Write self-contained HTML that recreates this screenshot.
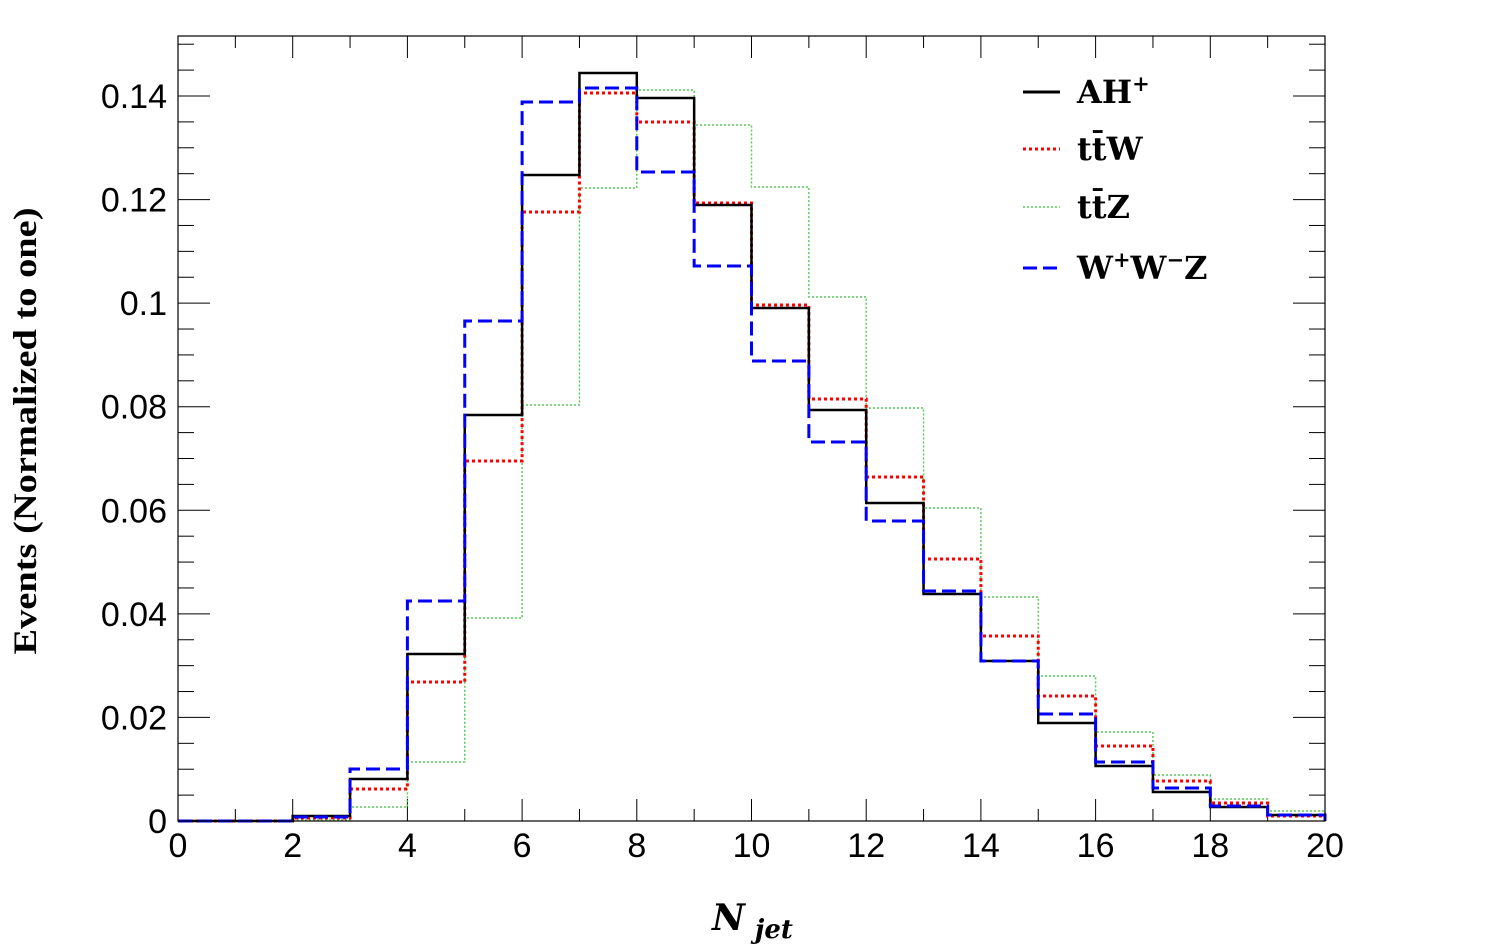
<!DOCTYPE html>
<html><head><meta charset="utf-8"><style>
html,body{margin:0;padding:0;background:#fff;}
svg{display:block;}
</style></head><body>
<svg id="s" width="1506" height="952" xmlns="http://www.w3.org/2000/svg">
<rect x="0" y="0" width="1506" height="952" fill="#fff"/>
<g id="ticks" stroke="#000" stroke-width="1"></g>
<g id="series" fill="none"></g>
<rect x="178" y="36" width="1147" height="785" fill="none" stroke="#000" stroke-width="1.2"/>
<g font-family="Liberation Sans, sans-serif" font-size="34" fill="#000" id="labels"></g>
<text x="0" y="0" transform="translate(36,431) rotate(-90)" text-anchor="middle" font-family="Liberation Serif, serif" font-weight="bold" font-size="33" textLength="447" lengthAdjust="spacingAndGlyphs">Events (Normalized to one)</text>
<text x="712" y="930" font-family="DejaVu Serif, serif" font-weight="bold" font-style="italic" font-size="36">N<tspan font-size="26" dy="8" dx="10">jet</tspan></text>
<g font-family="DejaVu Serif, serif" font-weight="bold" font-size="32">
<line x1="1023" y1="92" x2="1060" y2="92" stroke="#000" stroke-width="3"/>
<text x="1077" y="103">AH<tspan font-size="21" dy="-12">+</tspan></text>
<line x1="1023" y1="149" x2="1060" y2="149" stroke="#f00" stroke-width="3" stroke-dasharray="3,3"/>
<text x="1077" y="160">tt̄W</text>
<line x1="1023" y1="207" x2="1060" y2="207" stroke="#5c5" stroke-width="1.5" stroke-dasharray="2,2"/>
<text x="1077" y="218">tt̄Z</text>
<line x1="1023" y1="268" x2="1060" y2="268" stroke="#00f" stroke-width="3" stroke-dasharray="14,6"/>
<text x="1077" y="279">W<tspan font-size="21" dy="-12">+</tspan><tspan dy="12">W</tspan><tspan font-size="21" dy="-12">−</tspan><tspan dy="12">Z</tspan></text>
</g>
</svg>
<script>
var NS="http://www.w3.org/2000/svg";
function el(p,n,a,t){var e=document.createElementNS(NS,n);for(var k in a)e.setAttribute(k,a[k]);if(t)e.textContent=t;p.appendChild(e);return e;}
var X0=178,PX=57.35,Y0=821,PY=5178.6;
var tk=document.getElementById('ticks'),lb=document.getElementById('labels');
for(var i=0;i<=20;i++){var x=X0+i*PX;var L=(i%2==0)?22:12;
el(tk,'line',{x1:x,y1:821,x2:x,y2:821-L});el(tk,'line',{x1:x,y1:36,x2:x,y2:36+L});
if(i%2==0)el(lb,'text',{x:x,y:857,'text-anchor':'middle'},String(i));}
for(var j=0;j<=30;j++){var v=j*0.005;var y=Y0-v*PY;if(y<36)break;var L=(j%4==0)?32:16;
el(tk,'line',{x1:178,y1:y,x2:178+L,y2:y});el(tk,'line',{x1:1325,y1:y,x2:1325-L,y2:y});
if(j%4==0){var s=(v==0)?'0':(Math.round(v*100)/100).toString();el(lb,'text',{x:167,y:y+12,'text-anchor':'end'},s);}}
var D={
g:[821,821,820,807,762,618,405,188,90,125,187,297,408,508,597,676,732,775,799,811],
r:[821,821,818,789,682,461,212,93,122,203,305,399,477,559,636,696,746,781,803,816],
k:[821,821,816,779,654,415,175,73,98,205,308,410,503,594,661,723,766,792,807,815],
b:[821,821,817,769,601,321,102,88,172,266,361,442,521,591,661,714,762,788,806,815]};
var st={g:{stroke:'#5c5','stroke-width':1.5,'stroke-dasharray':'2,2'},
r:{stroke:'#f00','stroke-width':3,'stroke-dasharray':'3,3'},
k:{stroke:'#000','stroke-width':2.5},
b:{stroke:'#00f','stroke-width':3,'stroke-dasharray':'14,6'}};
var sg=document.getElementById('series');
['g','r','k','b'].forEach(function(n){var a=D[n],d='M'+X0+' 821';
for(var i=0;i<20;i++){d+=' L'+(X0+i*PX)+' '+a[i]+' L'+(X0+(i+1)*PX)+' '+a[i];}
d+=' L1325 821';var o=st[n];o.d=d;el(sg,'path',o);});
</script>
</body></html>
